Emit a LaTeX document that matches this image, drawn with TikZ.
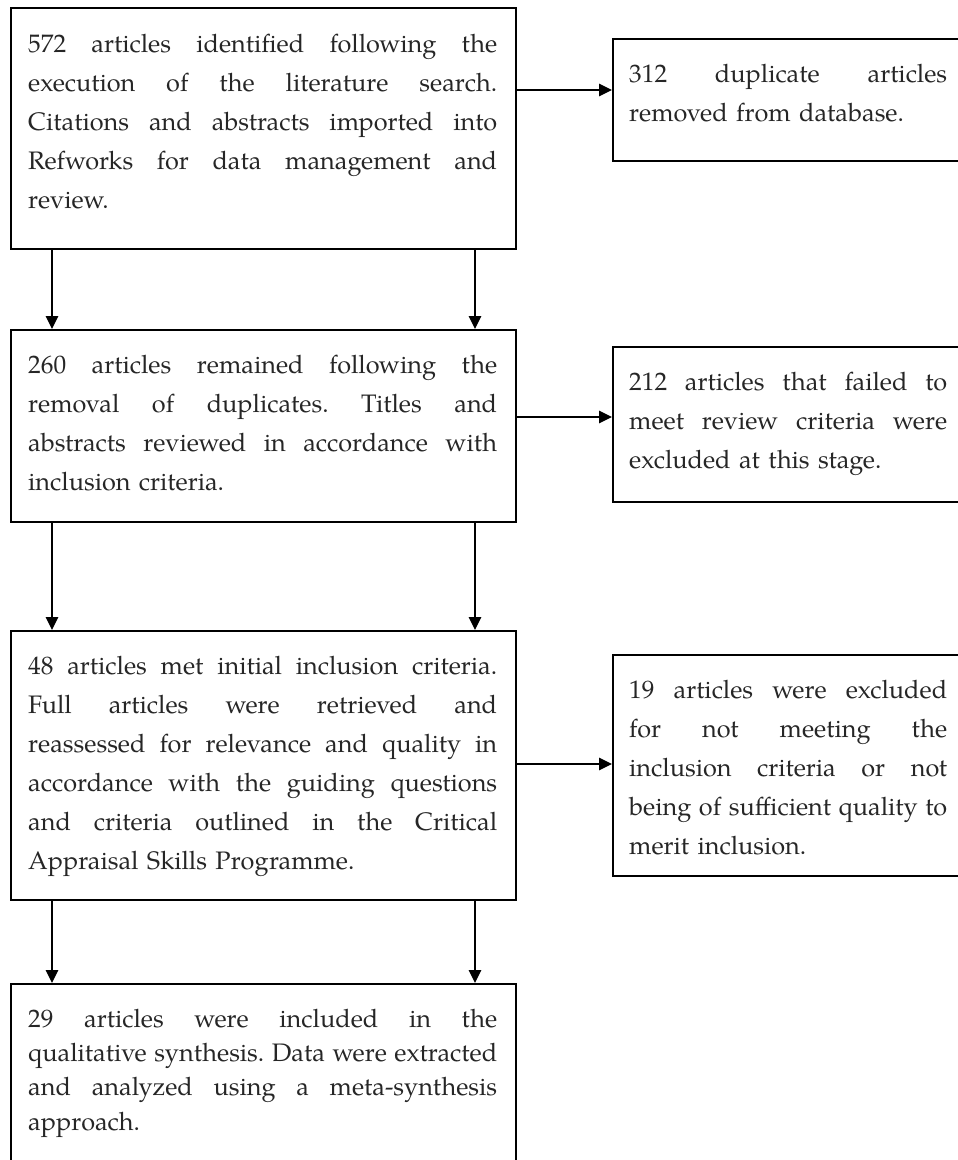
\documentclass[tikz,border=0pt]{standalone}
\usepackage{fontspec}
\setmainfont{texgyrepagella}[Extension=.otf, UprightFont=*-regular, BoldFont=*-bold, ItalicFont=*-italic, BoldItalicFont=*-bolditalic]
\usetikzlibrary{arrows.meta}
\newcommand{\jl}[2]{\leavevmode\hbox to #1{\spaceskip=0.25em plus 1fil\relax\xspaceskip=0.25em plus 1fil\relax #2}\\}
\newcommand{\fs}{\rule{0pt}{25pt}}
\begin{document}
\begin{tikzpicture}[x=1pt,y=-1pt,
  box/.style={draw=black, line width=1.6pt, anchor=north west, inner sep=0pt},
  txt/.style={anchor=north west, inner sep=0pt, align=left, text=black!85,
    font=\fontsize{25.3}{39}\selectfont},
  wide/.style={text width=469pt},
  narrow/.style={text width=318pt},
  arr/.style={line width=1.3pt, -{Triangle[length=13pt,width=12.5pt]}}]
\useasboundingbox (0,0) rectangle (958,1160);
\clip (0,0) rectangle (958,1160);
% left column boxes
\node[box, minimum width=505pt, minimum height=241pt] (b1) at (10,7) {};
\node[box, minimum width=505pt, minimum height=192pt] (b2) at (10,329) {};
\node[box, minimum width=505pt, minimum height=269pt] (b3) at (10,630) {};
\node[box, minimum width=505pt, minimum height=185pt] (b4) at (10,983) {};
% right column boxes
\node[box, minimum width=348pt, minimum height=122pt] (r1) at (612,38) {};
\node[box, minimum width=348pt, minimum height=155pt] (r2) at (612,346) {};
\node[box, minimum width=348pt, minimum height=221pt] (r3) at (612,654) {};
% texts
\node[txt, wide] (t1) at (28,27) {%
\jl{469pt}{\fs572 articles identified following the}%
\jl{469pt}{execution of the literature search.}%
\jl{469pt}{Citations and abstracts imported into}%
\jl{469pt}{Refworks for data management and}%
review.};
\node[txt, wide] (t2) at (28,348) {%
\jl{469pt}{\fs260 articles remained following the}%
\jl{469pt}{removal of duplicates. Titles and}%
\jl{469pt}{abstracts reviewed in accordance with}%
inclusion criteria.};
\node[txt, wide] (t3) at (28,649) {%
\jl{469pt}{\fs48 articles met initial inclusion criteria.}%
\jl{469pt}{Full articles were retrieved and}%
\jl{469pt}{reassessed for relevance and quality in}%
\jl{469pt}{accordance with the guiding questions}%
\jl{469pt}{and criteria outlined in the Critical}%
Appraisal Skills Programme.};
\node[txt, wide, font=\fontsize{25.3}{34.3}\selectfont] (t4) at (28,1002) {%
\jl{469pt}{\fs29 articles were included in the}%
\jl{469pt}{qualitative synthesis. Data were extracted}%
\jl{469pt}{and analyzed using a meta-synthesis}%
approach.};
\node[txt, narrow] (s1) at (629,57) {%
\jl{318pt}{\fs312 duplicate articles}%
removed from database.};
\node[txt, narrow] (s2) at (629,365) {%
\jl{318pt}{\fs212 articles that failed to}%
\jl{318pt}{meet review criteria were}%
excluded at this stage.};
\node[txt, narrow] (s3) at (629,673) {%
\jl{318pt}{\fs19 articles were excluded}%
\jl{318pt}{for not meeting the}%
\jl{318pt}{inclusion criteria or not}%
\jl{318pt}{being of sufficient quality to}%
merit inclusion.};
% connector guides
\coordinate (xl) at (52,0);
\coordinate (xr) at (475,0);
\coordinate (h1) at (0,90);
\coordinate (h2) at (0,417);
\coordinate (h3) at (0,764);
% vertical arrows
\draw[arr] (b1.south -| xl) -- (b2.north -| xl);
\draw[arr] (b1.south -| xr) -- (b2.north -| xr);
\draw[arr] (b2.south -| xl) -- (b3.north -| xl);
\draw[arr] (b2.south -| xr) -- (b3.north -| xr);
\draw[arr] (b3.south -| xl) -- (b4.north -| xl);
\draw[arr] (b3.south -| xr) -- (b4.north -| xr);
% horizontal arrows
\draw[arr] (b1.east |- h1) -- (r1.west |- h1);
\draw[arr] (b2.east |- h2) -- (r2.west |- h2);
\draw[arr] (b3.east |- h3) -- (r3.west |- h3);
\end{tikzpicture}
\end{document}
